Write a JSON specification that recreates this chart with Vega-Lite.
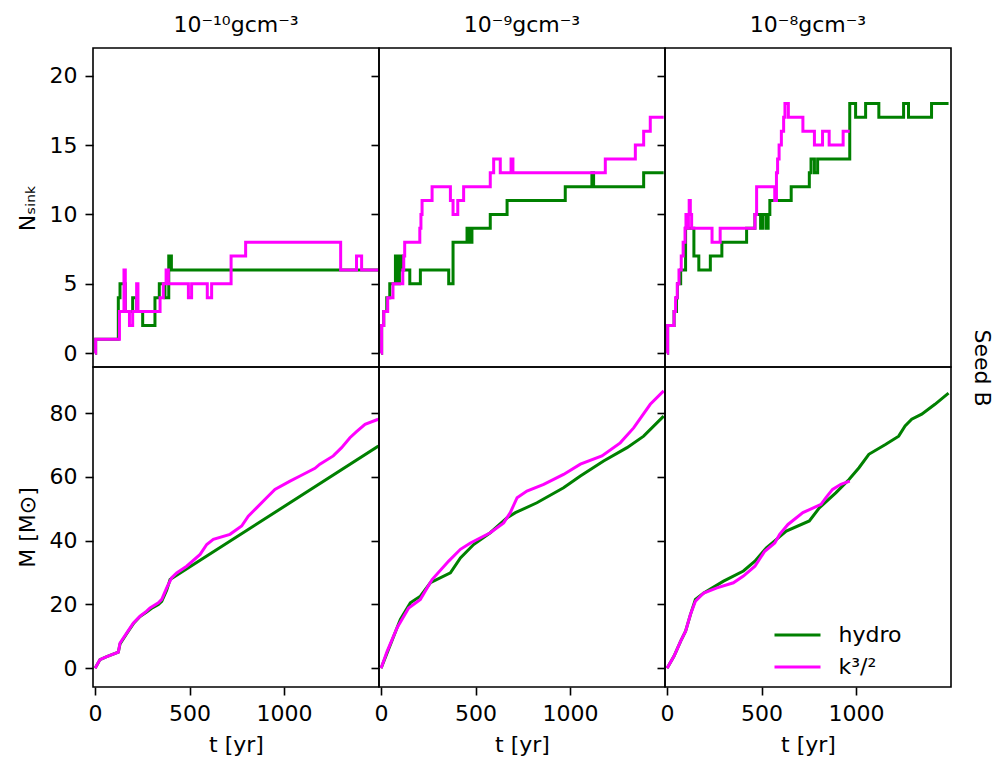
{
  "$schema": "https://vega.github.io/schema/vega-lite/v6.json",
  "background": "white",
  "padding": {"left": 15, "top": 13, "right": 5, "bottom": 5},
  "config": {
    "font": "DejaVu Sans",
    "view": {"stroke": "black", "strokeWidth": 1.6},
    "axis": {"domain": false, "grid": false, "tickColor": "black", "tickWidth": 1.6, "tickSize": 8, "labelFontSize": 22, "labelColor": "black", "labelPadding": 8, "titleFontSize": 22, "titleFontWeight": "normal", "titleColor": "black", "titlePadding": 10},
    "title": {"fontSize": 22, "fontWeight": "normal", "color": "black", "offset": 11},
    "legend": {"labelFontSize": 22, "labelColor": "black"}
  },
  "datasets": {
    "nsink": [
      {"col":1,"model":"hydro","t":0,"n":0},{"col":1,"model":"hydro","t":3,"n":1},{"col":1,"model":"hydro","t":123,"n":4},{"col":1,"model":"hydro","t":132,"n":5},{"col":1,"model":"hydro","t":160,"n":3},{"col":1,"model":"hydro","t":199,"n":4},{"col":1,"model":"hydro","t":220,"n":3},{"col":1,"model":"hydro","t":252,"n":2},{"col":1,"model":"hydro","t":317,"n":4},{"col":1,"model":"hydro","t":340,"n":5},{"col":1,"model":"hydro","t":370,"n":4},{"col":1,"model":"hydro","t":390,"n":7},{"col":1,"model":"hydro","t":404,"n":6},{"col":1,"model":"hydro","t":1500,"n":6},
      {"col":1,"model":"k³/²","t":0,"n":0},{"col":1,"model":"k³/²","t":3,"n":1},{"col":1,"model":"k³/²","t":129,"n":3},{"col":1,"model":"k³/²","t":153,"n":6},{"col":1,"model":"k³/²","t":160,"n":3},{"col":1,"model":"k³/²","t":182,"n":2},{"col":1,"model":"k³/²","t":199,"n":3},{"col":1,"model":"k³/²","t":220,"n":5},{"col":1,"model":"k³/²","t":227,"n":3},{"col":1,"model":"k³/²","t":344,"n":4},{"col":1,"model":"k³/²","t":361,"n":5},{"col":1,"model":"k³/²","t":376,"n":6},{"col":1,"model":"k³/²","t":388,"n":5},{"col":1,"model":"k³/²","t":494,"n":4},{"col":1,"model":"k³/²","t":511,"n":5},{"col":1,"model":"k³/²","t":594,"n":4},{"col":1,"model":"k³/²","t":617,"n":5},{"col":1,"model":"k³/²","t":720,"n":7},{"col":1,"model":"k³/²","t":797,"n":8},{"col":1,"model":"k³/²","t":1300,"n":6},{"col":1,"model":"k³/²","t":1384,"n":7},{"col":1,"model":"k³/²","t":1411,"n":6},{"col":1,"model":"k³/²","t":1500,"n":6},
      {"col":2,"model":"hydro","t":0,"n":0},{"col":2,"model":"hydro","t":3,"n":2},{"col":2,"model":"hydro","t":14,"n":3},{"col":2,"model":"hydro","t":30,"n":4},{"col":2,"model":"hydro","t":46,"n":5},{"col":2,"model":"hydro","t":76,"n":7},{"col":2,"model":"hydro","t":84,"n":5},{"col":2,"model":"hydro","t":97,"n":7},{"col":2,"model":"hydro","t":110,"n":6},{"col":2,"model":"hydro","t":152,"n":5},{"col":2,"model":"hydro","t":208,"n":6},{"col":2,"model":"hydro","t":358,"n":5},{"col":2,"model":"hydro","t":381,"n":8},{"col":2,"model":"hydro","t":455,"n":9},{"col":2,"model":"hydro","t":469,"n":8},{"col":2,"model":"hydro","t":481,"n":9},{"col":2,"model":"hydro","t":578,"n":10},{"col":2,"model":"hydro","t":667,"n":11},{"col":2,"model":"hydro","t":975,"n":12},{"col":2,"model":"hydro","t":1116,"n":13},{"col":2,"model":"hydro","t":1125,"n":12},{"col":2,"model":"hydro","t":1390,"n":13},{"col":2,"model":"hydro","t":1496,"n":13},
      {"col":2,"model":"k³/²","t":0,"n":0},{"col":2,"model":"k³/²","t":3,"n":2},{"col":2,"model":"k³/²","t":14,"n":3},{"col":2,"model":"k³/²","t":35,"n":4},{"col":2,"model":"k³/²","t":63,"n":5},{"col":2,"model":"k³/²","t":115,"n":6},{"col":2,"model":"k³/²","t":120,"n":7},{"col":2,"model":"k³/²","t":125,"n":8},{"col":2,"model":"k³/²","t":205,"n":9},{"col":2,"model":"k³/²","t":211,"n":10},{"col":2,"model":"k³/²","t":217,"n":11},{"col":2,"model":"k³/²","t":270,"n":12},{"col":2,"model":"k³/²","t":367,"n":11},{"col":2,"model":"k³/²","t":381,"n":10},{"col":2,"model":"k³/²","t":406,"n":11},{"col":2,"model":"k³/²","t":437,"n":12},{"col":2,"model":"k³/²","t":578,"n":13},{"col":2,"model":"k³/²","t":596,"n":14},{"col":2,"model":"k³/²","t":631,"n":13},{"col":2,"model":"k³/²","t":688,"n":14},{"col":2,"model":"k³/²","t":698,"n":13},{"col":2,"model":"k³/²","t":1187,"n":14},{"col":2,"model":"k³/²","t":1346,"n":15},{"col":2,"model":"k³/²","t":1390,"n":16},{"col":2,"model":"k³/²","t":1425,"n":17},{"col":2,"model":"k³/²","t":1496,"n":17},
      {"col":3,"model":"hydro","t":0,"n":0},{"col":3,"model":"hydro","t":3,"n":2},{"col":3,"model":"hydro","t":37,"n":3},{"col":3,"model":"hydro","t":50,"n":4},{"col":3,"model":"hydro","t":55,"n":5},{"col":3,"model":"hydro","t":72,"n":6},{"col":3,"model":"hydro","t":98,"n":9},{"col":3,"model":"hydro","t":142,"n":7},{"col":3,"model":"hydro","t":168,"n":6},{"col":3,"model":"hydro","t":229,"n":7},{"col":3,"model":"hydro","t":290,"n":8},{"col":3,"model":"hydro","t":421,"n":9},{"col":3,"model":"hydro","t":465,"n":10},{"col":3,"model":"hydro","t":495,"n":9},{"col":3,"model":"hydro","t":505,"n":10},{"col":3,"model":"hydro","t":523,"n":9},{"col":3,"model":"hydro","t":535,"n":10},{"col":3,"model":"hydro","t":544,"n":11},{"col":3,"model":"hydro","t":657,"n":12},{"col":3,"model":"hydro","t":753,"n":13},{"col":3,"model":"hydro","t":762,"n":14},{"col":3,"model":"hydro","t":780,"n":13},{"col":3,"model":"hydro","t":797,"n":14},{"col":3,"model":"hydro","t":967,"n":18},{"col":3,"model":"hydro","t":998,"n":17},{"col":3,"model":"hydro","t":1051,"n":18},{"col":3,"model":"hydro","t":1121,"n":17},{"col":3,"model":"hydro","t":1252,"n":18},{"col":3,"model":"hydro","t":1278,"n":17},{"col":3,"model":"hydro","t":1400,"n":18},{"col":3,"model":"hydro","t":1490,"n":18},
      {"col":3,"model":"k³/²","t":0,"n":0},{"col":3,"model":"k³/²","t":3,"n":2},{"col":3,"model":"k³/²","t":37,"n":3},{"col":3,"model":"k³/²","t":45,"n":4},{"col":3,"model":"k³/²","t":54,"n":5},{"col":3,"model":"k³/²","t":63,"n":6},{"col":3,"model":"k³/²","t":75,"n":7},{"col":3,"model":"k³/²","t":85,"n":8},{"col":3,"model":"k³/²","t":95,"n":9},{"col":3,"model":"k³/²","t":100,"n":10},{"col":3,"model":"k³/²","t":106,"n":9},{"col":3,"model":"k³/²","t":113,"n":10},{"col":3,"model":"k³/²","t":117,"n":11},{"col":3,"model":"k³/²","t":123,"n":10},{"col":3,"model":"k³/²","t":130,"n":9},{"col":3,"model":"k³/²","t":238,"n":8},{"col":3,"model":"k³/²","t":281,"n":9},{"col":3,"model":"k³/²","t":465,"n":10},{"col":3,"model":"k³/²","t":474,"n":12},{"col":3,"model":"k³/²","t":570,"n":11},{"col":3,"model":"k³/²","t":579,"n":13},{"col":3,"model":"k³/²","t":585,"n":14},{"col":3,"model":"k³/²","t":593,"n":15},{"col":3,"model":"k³/²","t":605,"n":16},{"col":3,"model":"k³/²","t":617,"n":17},{"col":3,"model":"k³/²","t":624,"n":18},{"col":3,"model":"k³/²","t":642,"n":17},{"col":3,"model":"k³/²","t":719,"n":16},{"col":3,"model":"k³/²","t":780,"n":15},{"col":3,"model":"k³/²","t":823,"n":16},{"col":3,"model":"k³/²","t":858,"n":15},{"col":3,"model":"k³/²","t":932,"n":16},{"col":3,"model":"k³/²","t":967,"n":16}
    ],
    "mass": [
      {"col":1,"model":"hydro","t":0,"m":0},{"col":1,"model":"hydro","t":26,"m":2.7},{"col":1,"model":"hydro","t":62,"m":3.6},{"col":1,"model":"hydro","t":123,"m":5.0},{"col":1,"model":"hydro","t":132,"m":7.6},{"col":1,"model":"hydro","t":168,"m":10.9},{"col":1,"model":"hydro","t":203,"m":14.0},{"col":1,"model":"hydro","t":238,"m":16.2},{"col":1,"model":"hydro","t":273,"m":17.6},{"col":1,"model":"hydro","t":305,"m":19.0},{"col":1,"model":"hydro","t":335,"m":20.0},{"col":1,"model":"hydro","t":353,"m":21.0},{"col":1,"model":"hydro","t":379,"m":24.5},{"col":1,"model":"hydro","t":397,"m":27.8},{"col":1,"model":"hydro","t":1500,"m":69.7},
      {"col":1,"model":"k³/²","t":0,"m":0},{"col":1,"model":"k³/²","t":26,"m":2.7},{"col":1,"model":"k³/²","t":62,"m":3.6},{"col":1,"model":"k³/²","t":123,"m":5.0},{"col":1,"model":"k³/²","t":132,"m":7.9},{"col":1,"model":"k³/²","t":168,"m":11.1},{"col":1,"model":"k³/²","t":203,"m":14.2},{"col":1,"model":"k³/²","t":238,"m":16.3},{"col":1,"model":"k³/²","t":273,"m":17.9},{"col":1,"model":"k³/²","t":291,"m":18.9},{"col":1,"model":"k³/²","t":335,"m":20.5},{"col":1,"model":"k³/²","t":353,"m":21.6},{"col":1,"model":"k³/²","t":379,"m":25.2},{"col":1,"model":"k³/²","t":406,"m":28.4},{"col":1,"model":"k³/²","t":432,"m":29.9},{"col":1,"model":"k³/²","t":485,"m":32.0},{"col":1,"model":"k³/²","t":556,"m":35.7},{"col":1,"model":"k³/²","t":591,"m":38.8},{"col":1,"model":"k³/²","t":626,"m":40.4},{"col":1,"model":"k³/²","t":714,"m":42.0},{"col":1,"model":"k³/²","t":776,"m":44.6},{"col":1,"model":"k³/²","t":811,"m":47.7},{"col":1,"model":"k³/²","t":855,"m":50.3},{"col":1,"model":"k³/²","t":908,"m":53.5},{"col":1,"model":"k³/²","t":952,"m":56.1},{"col":1,"model":"k³/²","t":1032,"m":58.7},{"col":1,"model":"k³/²","t":1085,"m":60.3},{"col":1,"model":"k³/²","t":1164,"m":62.7},{"col":1,"model":"k³/²","t":1190,"m":64.0},{"col":1,"model":"k³/²","t":1261,"m":66.6},{"col":1,"model":"k³/²","t":1305,"m":69.2},{"col":1,"model":"k³/²","t":1349,"m":72.3},{"col":1,"model":"k³/²","t":1384,"m":74.2},{"col":1,"model":"k³/²","t":1429,"m":76.5},{"col":1,"model":"k³/²","t":1499,"m":78.1},
      {"col":2,"model":"hydro","t":0,"m":0},{"col":2,"model":"hydro","t":102,"m":15.3},{"col":2,"model":"hydro","t":155,"m":20.5},{"col":2,"model":"hydro","t":208,"m":22.6},{"col":2,"model":"hydro","t":261,"m":26.8},{"col":2,"model":"hydro","t":367,"m":29.9},{"col":2,"model":"hydro","t":420,"m":34.6},{"col":2,"model":"hydro","t":490,"m":38.8},{"col":2,"model":"hydro","t":578,"m":42.5},{"col":2,"model":"hydro","t":667,"m":47.2},{"col":2,"model":"hydro","t":711,"m":48.8},{"col":2,"model":"hydro","t":825,"m":51.9},{"col":2,"model":"hydro","t":966,"m":56.6},{"col":2,"model":"hydro","t":1055,"m":60.3},{"col":2,"model":"hydro","t":1178,"m":65.0},{"col":2,"model":"hydro","t":1302,"m":69.2},{"col":2,"model":"hydro","t":1390,"m":72.8},{"col":2,"model":"hydro","t":1496,"m":79.1},
      {"col":2,"model":"k³/²","t":0,"m":0},{"col":2,"model":"k³/²","t":32,"m":5.3},{"col":2,"model":"k³/²","t":85,"m":12.7},{"col":2,"model":"k³/²","t":146,"m":18.9},{"col":2,"model":"k³/²","t":208,"m":21.6},{"col":2,"model":"k³/²","t":270,"m":27.8},{"col":2,"model":"k³/²","t":358,"m":33.6},{"col":2,"model":"k³/²","t":420,"m":37.3},{"col":2,"model":"k³/²","t":473,"m":39.3},{"col":2,"model":"k³/²","t":578,"m":42.5},{"col":2,"model":"k³/²","t":649,"m":45.6},{"col":2,"model":"k³/²","t":684,"m":48.8},{"col":2,"model":"k³/²","t":720,"m":53.5},{"col":2,"model":"k³/²","t":772,"m":55.6},{"col":2,"model":"k³/²","t":861,"m":57.7},{"col":2,"model":"k³/²","t":966,"m":60.8},{"col":2,"model":"k³/²","t":1055,"m":64.0},{"col":2,"model":"k³/²","t":1169,"m":66.6},{"col":2,"model":"k³/²","t":1266,"m":70.7},{"col":2,"model":"k³/²","t":1337,"m":75.4},{"col":2,"model":"k³/²","t":1425,"m":82.8},{"col":2,"model":"k³/²","t":1496,"m":87.0},
      {"col":3,"model":"hydro","t":0,"m":0},{"col":3,"model":"hydro","t":37,"m":3.8},{"col":3,"model":"hydro","t":72,"m":8.5},{"col":3,"model":"hydro","t":98,"m":11.6},{"col":3,"model":"hydro","t":124,"m":16.9},{"col":3,"model":"hydro","t":150,"m":21.6},{"col":3,"model":"hydro","t":194,"m":23.6},{"col":3,"model":"hydro","t":299,"m":27.3},{"col":3,"model":"hydro","t":404,"m":30.5},{"col":3,"model":"hydro","t":465,"m":33.6},{"col":3,"model":"hydro","t":526,"m":37.8},{"col":3,"model":"hydro","t":579,"m":40.4},{"col":3,"model":"hydro","t":631,"m":43.0},{"col":3,"model":"hydro","t":753,"m":46.2},{"col":3,"model":"hydro","t":806,"m":50.3},{"col":3,"model":"hydro","t":893,"m":55.0},{"col":3,"model":"hydro","t":963,"m":59.2},{"col":3,"model":"hydro","t":1016,"m":62.9},{"col":3,"model":"hydro","t":1068,"m":67.1},{"col":3,"model":"hydro","t":1156,"m":70.2},{"col":3,"model":"hydro","t":1226,"m":72.8},{"col":3,"model":"hydro","t":1260,"m":76.0},{"col":3,"model":"hydro","t":1295,"m":78.1},{"col":3,"model":"hydro","t":1348,"m":79.7},{"col":3,"model":"hydro","t":1418,"m":82.8},{"col":3,"model":"hydro","t":1490,"m":86.3},
      {"col":3,"model":"k³/²","t":0,"m":0},{"col":3,"model":"k³/²","t":37,"m":3.8},{"col":3,"model":"k³/²","t":72,"m":8.5},{"col":3,"model":"k³/²","t":98,"m":11.6},{"col":3,"model":"k³/²","t":124,"m":16.9},{"col":3,"model":"k³/²","t":150,"m":21.0},{"col":3,"model":"k³/²","t":194,"m":23.6},{"col":3,"model":"k³/²","t":264,"m":25.2},{"col":3,"model":"k³/²","t":351,"m":26.8},{"col":3,"model":"k³/²","t":404,"m":28.9},{"col":3,"model":"k³/²","t":465,"m":32.0},{"col":3,"model":"k³/²","t":517,"m":36.7},{"col":3,"model":"k³/²","t":570,"m":39.3},{"col":3,"model":"k³/²","t":596,"m":42.0},{"col":3,"model":"k³/²","t":640,"m":45.1},{"col":3,"model":"k³/²","t":719,"m":48.8},{"col":3,"model":"k³/²","t":815,"m":51.4},{"col":3,"model":"k³/²","t":841,"m":53.5},{"col":3,"model":"k³/²","t":876,"m":56.1},{"col":3,"model":"k³/²","t":920,"m":57.7},{"col":3,"model":"k³/²","t":967,"m":58.7}
    ]
  },
  "columns": 3,
  "spacing": 0,
  "bounds": "flush",
  "resolve": {"legend": {"color": "independent"}},
  "concat": [
    {
      "width": 286, "height": 319,
      "title": "10⁻¹⁰gcm⁻³",
      "data": {"name": "nsink"},
      "transform": [{"filter": "datum.col == 1"}],
      "mark": {"type": "line", "interpolate": "step-after", "strokeWidth": 3, "clip": true},
      "encoding": {
        "x": {"field": "t", "type": "quantitative", "scale": {"domain": [-11, 1503], "nice": false, "zero": false}, "axis": null},
        "y": {"field": "n", "type": "quantitative", "scale": {"domain": [-1, 22], "nice": false, "zero": false}, "axis": {"values": [0, 5, 10, 15, 20], "title": "Nₛᵢₙₖ"}},
        "color": {"field": "model", "type": "nominal", "scale": {"domain": ["hydro", "k³/²"], "range": ["#008000", "#ff00ff"]}, "legend": null}
      }
    },
    {
      "width": 286, "height": 319,
      "title": "10⁻⁹gcm⁻³",
      "data": {"name": "nsink"},
      "transform": [{"filter": "datum.col == 2"}],
      "mark": {"type": "line", "interpolate": "step-after", "strokeWidth": 3, "clip": true},
      "encoding": {
        "x": {"field": "t", "type": "quantitative", "scale": {"domain": [-11, 1503], "nice": false, "zero": false}, "axis": null},
        "y": {"field": "n", "type": "quantitative", "scale": {"domain": [-1, 22], "nice": false, "zero": false}, "axis": {"values": [0, 5, 10, 15, 20], "title": null, "labels": false}},
        "color": {"field": "model", "type": "nominal", "scale": {"domain": ["hydro", "k³/²"], "range": ["#008000", "#ff00ff"]}, "legend": null}
      }
    },
    {
      "width": 286, "height": 319,
      "title": "10⁻⁸gcm⁻³",
      "data": {"name": "nsink"},
      "transform": [{"filter": "datum.col == 3"}],
      "resolve": {"axis": {"y": "independent"}},
      "layer": [
        {
          "mark": {"type": "line", "interpolate": "step-after", "strokeWidth": 3, "clip": true},
          "encoding": {
            "x": {"field": "t", "type": "quantitative", "scale": {"domain": [-11, 1503], "nice": false, "zero": false}, "axis": null},
            "y": {"field": "n", "type": "quantitative", "scale": {"domain": [-1, 22], "nice": false, "zero": false}, "axis": {"values": [0, 5, 10, 15, 20], "title": null, "labels": false}},
            "color": {"field": "model", "type": "nominal", "scale": {"domain": ["hydro", "k³/²"], "range": ["#008000", "#ff00ff"]}, "legend": null}
          }
        },
        {
          "mark": {"type": "point", "opacity": 0},
          "encoding": {
            "x": {"field": "t", "type": "quantitative", "axis": null},
            "y": {"field": "n", "type": "quantitative", "axis": {"orient": "right", "title": "Seed B", "ticks": false, "labels": false, "domain": false, "titleAngle": 90, "titleBaseline": "bottom", "titleAlign": "center", "titleY": 319.5, "titlePadding": 18}}
          }
        }
      ]
    },
    {
      "width": 286, "height": 320,
      "data": {"name": "mass"},
      "transform": [{"filter": "datum.col == 1"}],
      "mark": {"type": "line", "strokeWidth": 3, "clip": true},
      "encoding": {
        "x": {"field": "t", "type": "quantitative", "scale": {"domain": [-11, 1503], "nice": false, "zero": false}, "axis": {"values": [0, 500, 1000], "format": "d", "title": "t [yr]"}},
        "y": {"field": "m", "type": "quantitative", "scale": {"domain": [-5.9, 94.5], "nice": false, "zero": false}, "axis": {"values": [0, 20, 40, 60, 80], "title": "M [M⊙]"}},
        "color": {"field": "model", "type": "nominal", "scale": {"domain": ["hydro", "k³/²"], "range": ["#008000", "#ff00ff"]}, "legend": null}
      }
    },
    {
      "width": 286, "height": 320,
      "data": {"name": "mass"},
      "transform": [{"filter": "datum.col == 2"}],
      "mark": {"type": "line", "strokeWidth": 3, "clip": true},
      "encoding": {
        "x": {"field": "t", "type": "quantitative", "scale": {"domain": [-11, 1503], "nice": false, "zero": false}, "axis": {"values": [0, 500, 1000], "format": "d", "title": "t [yr]"}},
        "y": {"field": "m", "type": "quantitative", "scale": {"domain": [-5.9, 94.5], "nice": false, "zero": false}, "axis": {"values": [0, 20, 40, 60, 80], "title": null, "labels": false}},
        "color": {"field": "model", "type": "nominal", "scale": {"domain": ["hydro", "k³/²"], "range": ["#008000", "#ff00ff"]}, "legend": null}
      }
    },
    {
      "width": 286, "height": 320,
      "data": {"name": "mass"},
      "transform": [{"filter": "datum.col == 3"}],
      "mark": {"type": "line", "strokeWidth": 3, "clip": true},
      "encoding": {
        "x": {"field": "t", "type": "quantitative", "scale": {"domain": [-11, 1503], "nice": false, "zero": false}, "axis": {"values": [0, 500, 1000], "format": "d", "title": "t [yr]"}},
        "y": {"field": "m", "type": "quantitative", "scale": {"domain": [-5.9, 94.5], "nice": false, "zero": false}, "axis": {"values": [0, 20, 40, 60, 80], "title": null, "labels": false}},
        "color": {"field": "model", "type": "nominal", "scale": {"domain": ["hydro", "k³/²"], "range": ["#008000", "#ff00ff"]}, "legend": {"orient": "none", "legendX": 119.5, "legendY": 255, "title": null, "symbolType": "M-2,0H2", "symbolSize": 529, "symbolStrokeWidth": 3, "labelFontSize": 22, "labelOffset": 28, "rowPadding": 8, "padding": 0}}
      }
    }
  ]
}
